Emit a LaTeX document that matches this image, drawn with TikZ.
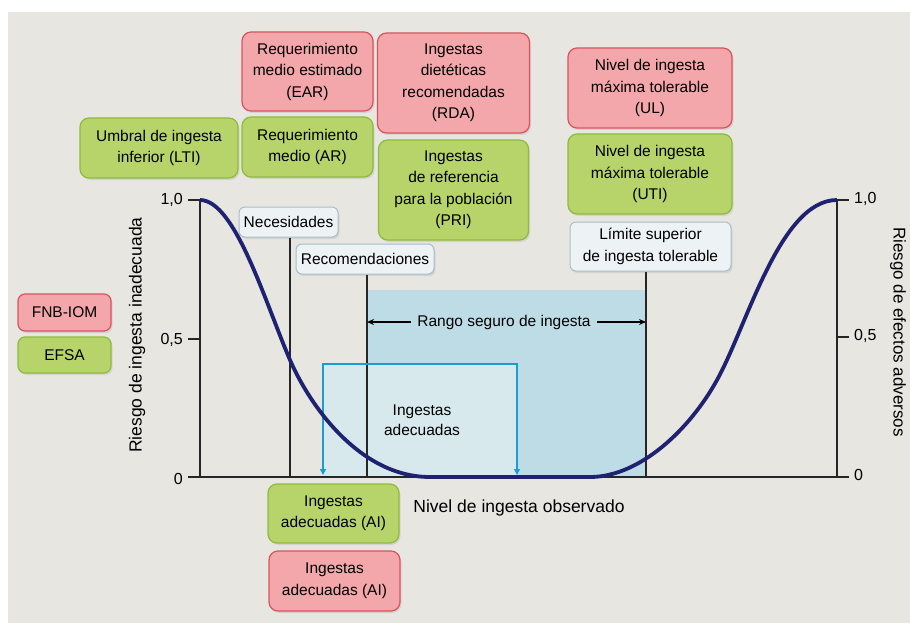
\documentclass[tikz,border=0pt]{standalone}
\usepackage{fontspec}
\setmainfont{Liberation Sans}
\usetikzlibrary{arrows.meta,shadows}
\definecolor{pagebg}{HTML}{E8E6E1}
\definecolor{redfill}{HTML}{F4A7AA}
\definecolor{redline}{HTML}{D9535E}
\definecolor{greenfill}{HTML}{B6D46A}
\definecolor{greenline}{HTML}{8EBB3E}
\definecolor{whitefill}{HTML}{EDF3F5}
\definecolor{whiteline}{HTML}{A9BEC8}
\definecolor{safeblue}{HTML}{BEDCE6}
\definecolor{innerblue}{HTML}{D8E9EE}
\definecolor{bracketcol}{HTML}{1C9CD0}
\definecolor{curvecol}{HTML}{1F2270}
\begin{document}
\begin{tikzpicture}[x=1pt,y=-1pt,
  boxbase/.style={rounded corners=9pt, line width=1.2pt, align=center, inner sep=0pt,
    font=\fontsize{15.5}{21.5}\selectfont,
    drop shadow={opacity=0.18,shadow xshift=1.5pt,shadow yshift=-2pt}},
  redbox/.style={boxbase, fill=redfill, draw=redline},
  greenbox/.style={boxbase, fill=greenfill, draw=greenline},
  whitebox/.style={boxbase, rounded corners=6pt, fill=whitefill, draw=whiteline, line width=1pt},
  plaintext/.style={font=\fontsize{15.5}{20}\selectfont, align=center, inner sep=1pt},
  axislabel/.style={font=\fontsize{17.5}{20}\selectfont, inner sep=0pt},
  ticklabel/.style={font=\fontsize{16}{18}\selectfont, inner sep=0pt},
  axisline/.style={line width=1.8pt, black!85},
  vline/.style={line width=1.2pt, black!85},
  curveline/.style={line width=3.8pt, curvecol},
  bracketline/.style={line width=1.8pt, bracketcol, {Triangle[width=6pt,length=6pt]}-{Triangle[width=6pt,length=6pt]}},
  rangoarrow/.style={line width=1.2pt, black, -{Stealth[length=7pt,width=6pt]}}
]
\useasboundingbox (0,0) rectangle (910,623);
\fill[white] (0,0) rectangle (910,623);
\fill[pagebg] (8,12) rectangle (910,623);

% axis coordinates
\coordinate (Ytop) at (200,200);
\coordinate (O) at (200,477);
\coordinate (R0) at (837,477);
\coordinate (Rtop) at (837,200);
\coordinate (necfoot) at (290,477);
\coordinate (recfoot) at (367,477);
\coordinate (limfoot) at (646,477);
\coordinate (aiL) at (323,475);
\coordinate (aiR) at (517,475);
\coordinate (aiTL) at (323,364);
\coordinate (aiTR) at (517,364);

% shaded regions
\fill[safeblue] (367,290) rectangle (limfoot);
\fill[innerblue] (aiTL) rectangle (517,477);

% boxes
\node[greenbox, minimum width=158pt, minimum height=60pt] (lti) at (159,148) {Umbral de ingesta\\inferior (LTI)};
\node[redbox, minimum width=131pt, minimum height=79pt] (ear) at (307.5,71.5) {Requerimiento\\medio estimado\\(EAR)};
\node[greenbox, minimum width=131pt, minimum height=60pt] (ar) at (307.5,147) {Requerimiento\\medio (AR)};
\node[redbox, minimum width=152pt, minimum height=100pt] (rda) at (453.5,83) {Ingestas\\dietéticas\\recomendadas\\(RDA)};
\node[greenbox, minimum width=150pt, minimum height=100pt] (pri) at (453.5,190) {Ingestas\\de referencia\\para la población\\(PRI)};
\node[redbox, minimum width=164pt, minimum height=80pt] (ul) at (650,88) {Nivel de ingesta\\máxima tolerable\\(UL)};
\node[greenbox, minimum width=164pt, minimum height=80pt] (uti) at (650,174) {Nivel de ingesta\\máxima tolerable\\(UTI)};
\node[whitebox, minimum width=161pt, minimum height=49pt] (lim) at (650.5,246.5) {Límite superior\\de ingesta tolerable};
\node[whitebox, minimum width=99pt, minimum height=30pt] (nec) at (288.5,222) {Necesidades};
\node[whitebox, minimum width=138pt, minimum height=30pt] (rec) at (365,259) {Recomendaciones};
\node[redbox, rounded corners=7pt, minimum width=93pt, minimum height=37pt] (fnb) at (64.5,312.5) {FNB-IOM};
\node[greenbox, rounded corners=7pt, minimum width=93pt, minimum height=36pt] (efsa) at (64.5,355) {EFSA};
\node[greenbox, minimum width=131pt, minimum height=59pt] (aigreen) at (333.5,513.5) {Ingestas\\adecuadas (AI)};
\node[redbox, minimum width=131pt, minimum height=60pt] (aired) at (334.5,581) {Ingestas\\adecuadas (AI)};

% vertical reference lines
\draw[vline] (necfoot |- nec.south) -- (necfoot);
\draw[vline] (recfoot |- rec.south) -- (recfoot);
\draw[vline] (limfoot |- lim.south) -- (limfoot);

% safe range label and arrows
\node[plaintext] (rango) at (504,322) {Rango seguro de ingesta};
\draw[rangoarrow] (rango.west) ++(-5,0) -- (rango.west -| recfoot);
\draw[rangoarrow] (rango.east) ++(5,0) -- (rango.east -| limfoot);

% adequate intake bracket
\draw[bracketline] (aiL) -- (aiTL) -- (aiTR) -- (aiR);
\node[plaintext] (ia) at (422,420) {Ingestas\\adecuadas};

% axes
\draw[axisline] (Ytop) -- (O) -- (R0) -- (Rtop);
\draw[line width=1.2pt, black!85] (Ytop) -- ++(-12,0);
\draw[line width=1.2pt, black!85] (200,339) -- ++(-12,0);
\draw[line width=1.2pt, black!85] (O) -- ++(-12,0);
\draw[line width=1.2pt, black!85] (Rtop) -- ++(12,0);
\draw[line width=1.2pt, black!85] (837,337) -- ++(12,0);
\draw[line width=1.2pt, black!85] (R0) -- ++(12,0);
\node[ticklabel, anchor=east] (l10) at (183,200) {1,0};
\node[ticklabel, anchor=east] (l05) at (183,340) {0,5};
\node[ticklabel, anchor=east] (l00) at (183,479) {0};
\node[ticklabel, anchor=west] (r10) at (854,199) {1,0};
\node[ticklabel, anchor=west] (r05) at (854,336) {0,5};
\node[ticklabel, anchor=west] (r00) at (854,475) {0};

% risk curve
\draw[curveline] (Ytop) .. controls (235,200) and (265,302) .. (290,360)
  .. controls (310,406) and (360,477) .. (430,477) -- (590,477)
  .. controls (640,477) and (690,429) .. (717,380)
  .. controls (747,326) and (780,200) .. (Rtop);

% axis labels
\node[axislabel, rotate=90] (ylab) at (137,335) {Riesgo de ingesta inadecuada};
\node[axislabel, rotate=-90, font=\fontsize{17}{20}\selectfont] (y2lab) at (898,332) {Riesgo de efectos adversos};
\node[axislabel] (xlab) at (519,508) {Nivel de ingesta observado};
\end{tikzpicture}
\end{document}
